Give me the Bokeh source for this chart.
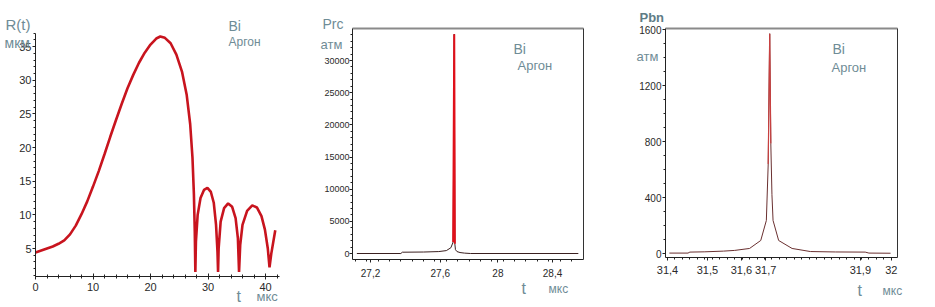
import numpy as np
from bokeh.plotting import figure
from bokeh.layouts import row
from bokeh.models import (Label, FixedTicker, SingleIntervalTicker, Range1d,
                          LinearAxis)
from bokeh.embed import file_html
from bokeh.resources import INLINE

# ---------------- data ----------------
# Panel 1: bubble radius R(t), мкм vs t, мкс
t1 = [0.0, 1.0, 2.0, 3.0, 4.0, 5.0, 6.0, 7.0, 8.0, 9.0, 10.0, 11.0, 12.0, 13.0,
      14.0, 15.0, 16.0, 17.0, 18.0, 19.0, 20.0, 21.0, 21.7, 22.5, 23.5, 24.5,
      25.5, 26.3, 26.9, 27.3, 27.55, 27.7, 27.8, 27.9, 28.2, 28.7, 29.3, 29.9,
      30.5, 31.0, 31.4, 31.65, 31.75, 31.85, 32.2, 32.8, 33.5, 34.2, 34.8,
      35.2, 35.4, 35.6, 36.0, 36.8, 37.7, 38.5, 39.3, 39.9, 40.4, 40.7, 41.0, 41.7]
r1 = [4.4, 4.7, 5.0, 5.3, 5.7, 6.2, 7.1, 8.4, 10.1, 12.0, 14.2, 16.5, 19.0, 21.6,
      24.1, 26.5, 28.8, 30.8, 32.6, 34.1, 35.3, 36.2, 36.5, 36.3, 35.5, 33.8,
      31.2, 27.8, 23.5, 18.5, 13.0, 7.5, 1.5, 6.0, 10.0, 12.5, 13.7, 14.0,
      13.4, 11.8, 8.5, 4.5, 1.5, 5.0, 9.0, 11.0, 11.7, 11.2, 9.5,
      6.5, 1.5, 5.5, 8.5, 10.6, 11.4, 11.1, 9.8, 7.8, 5.0, 2.2, 4.2, 7.7]

# Panel 2: Prc, атм
t2 = [27.11, 27.40, 27.41, 27.55, 27.65, 27.70, 27.73, 27.745, 27.752, 27.756,
      27.76, 27.77, 27.79, 27.82, 27.86, 28.57]
p2 = [0, 0, 200, 230, 300, 450, 900, 1800, 34100, 1500,
      600, 300, 150, 60, 0, 0]

# Panel 3: Pbn, атм
t3 = [31.405, 31.455, 31.46, 31.50, 31.55, 31.58, 31.62, 31.65, 31.665, 31.670,
      31.674, 31.677, 31.680, 31.683, 31.698, 31.734, 31.783, 31.85, 31.93,
      31.94, 31.998]
p3 = [3, 3, 10, 12, 17, 22, 36, 93, 236, 640,
      1570, 785, 420, 236, 93, 36, 14, 11, 10,
      3, 2]

# tick labels
x2_tick_pos = [27.2, 27.66, 28.04, 28.4]
x2_tick_lab = ["27,2", "27,6", "28", "28,4"]
y2_ticks = [0, 5000, 10000, 15000, 20000, 25000, 30000]
x3_tick_pos = [31.4, 31.507, 31.598, 31.663, 31.917, 32.0]
x3_tick_lab = ["31,4", "31,5", "31,6", "31,7", "31,9", "32"]
y3_ticks = [0, 400, 800, 1200, 1600]

TXT = "#6f8c96"
FONT = "Liberation Sans"
H = 305


def make_fig(width, view_x, view_y):
    p = figure(x_range=Range1d(*view_x), y_range=Range1d(*view_y),
               frame_width=width, frame_height=H, min_border=0,
               x_axis_location=None, y_axis_location=None,
               output_backend="svg", toolbar_location=None, title=None)
    p.grid.visible = False
    p.outline_line_color = None
    p.background_fill_color = "white"
    p.border_fill_color = "white"
    return p


def style_axis(ax, size):
    ax.axis_line_color = "#222222"
    ax.major_tick_line_color = "#222222"
    ax.minor_tick_line_color = "#222222"
    ax.major_label_text_font = FONT
    ax.major_label_text_color = "#2a2a2a"
    ax.major_label_text_font_size = size
    ax.major_tick_out = 3
    ax.major_tick_in = 0
    ax.minor_tick_out = 2
    ax.minor_tick_in = 0


def frame_axis(p, place, loc, bounds, color="#333333", width=1):
    ax = LinearAxis(fixed_location=loc, bounds=bounds, axis_line_color=color,
                    axis_line_width=width, major_tick_line_color=None,
                    minor_tick_line_color=None, major_label_text_alpha=0,
                    major_label_text_font_size="1px")
    p.add_layout(ax, place)


def add_text(p, x0, px, py, s, size, color=TXT, style="normal"):
    p.add_layout(Label(x=px - x0, y=H - py, x_units="screen", y_units="screen",
                       text=s, text_font=FONT, text_font_size=f"{size}px",
                       text_color=color, text_font_style=style,
                       text_baseline="alphabetic", text_align="left"))


# ---------------- panel 1 ----------------
p1 = make_fig(300, (-35 / 5.75, 265 / 5.75), (5 - 57 / 6.73, 5 + 248 / 6.73))
xa1 = LinearAxis(fixed_location=0.84, bounds=(0, 42.43),
                 ticker=SingleIntervalTicker(interval=10, num_minor_ticks=5))
ya1 = LinearAxis(fixed_location=0, bounds=(0.84, 37.0),
                 ticker=SingleIntervalTicker(interval=5, num_minor_ticks=5))
style_axis(xa1, "11px")
style_axis(ya1, "11px")
xa1.major_tick_in = 3
xa1.minor_tick_in = 2
xa1.major_label_standoff = 4
ya1.major_label_standoff = 1
p1.add_layout(xa1, "below")
p1.add_layout(ya1, "left")
p1.line(t1, r1, line_color="#c8141e", line_width=2.6)
add_text(p1, 0, 5, 24, "R(t)", 15)
add_text(p1, 0, 4, 42, "мкм", 14)
add_text(p1, 0, 228, 25, "Bi", 14)
add_text(p1, 0, 228, 41, "Аргон", 12)
add_text(p1, 0, 236, 296, "t", 16)
add_text(p1, 0, 256, 296, "мкс", 13)

# ---------------- panel 2 ----------------
s2 = 151.7            # px per мкс
k2 = 6.433 / 1000.0   # px per атм
p2f = make_fig(300, (27.2 - 70 / s2, 27.2 + 230 / s2), (-52 / k2, 253 / k2))
x2lo, x2hi, y2lo, y2hi = 27.0813, 28.604, -933, 34975
xa2 = LinearAxis(fixed_location=y2lo, bounds=(x2lo, x2hi),
                 ticker=FixedTicker(ticks=x2_tick_pos,
                                    minor_ticks=list(np.arange(27.1, 28.6, 0.075))))
xa2.major_label_overrides = {v: s for v, s in zip(x2_tick_pos, x2_tick_lab)}
ya2 = LinearAxis(fixed_location=x2lo, bounds=(y2lo, y2hi),
                 ticker=FixedTicker(ticks=y2_ticks,
                                    minor_ticks=list(np.arange(0, 35000, 1000))))
style_axis(xa2, "10px")
style_axis(ya2, "9px")
xa2.major_label_standoff = 6
ya2.major_label_standoff = 0
frame_axis(p2f, "right", x2hi, (y2lo, y2hi))
frame_axis(p2f, "above", y2hi, (x2lo, x2hi), color="#8a8a8a", width=2)
p2f.add_layout(xa2, "below")
p2f.add_layout(ya2, "left")
p2f.line(t2, p2, line_color="#3b2020", line_width=1)
sel2 = [i for i, v in enumerate(p2) if v > 1000]
p2f.line([t2[i] for i in sel2], [p2[i] for i in sel2], line_color="#e0101a", line_width=2)
add_text(p2f, 300, 322, 23, "Prc", 14)
add_text(p2f, 300, 320, 44, "атм", 13)
add_text(p2f, 300, 513, 48, "Bi", 14)
add_text(p2f, 300, 517, 65, "Аргон", 13)
add_text(p2f, 300, 521, 288, "t", 16)
add_text(p2f, 300, 548, 288, "мкс", 12)

# ---------------- panel 3 ----------------
s3 = 373.0
k3 = 0.14
p3f = make_fig(335, (31.4 - 67 / s3, 31.4 + 268 / s3), (-52 / k3, 253 / k3))
x3lo, x3hi, y3lo, y3hi = 31.3946, 32.0166, -28.6, 1607
xa3 = LinearAxis(fixed_location=y3lo, bounds=(x3lo, x3hi),
                 ticker=FixedTicker(ticks=x3_tick_pos,
                                    minor_ticks=list(np.arange(31.4, 32.01, 0.02))))
xa3.major_label_overrides = {v: s for v, s in zip(x3_tick_pos, x3_tick_lab)}
ya3 = LinearAxis(fixed_location=x3lo, bounds=(y3lo, y3hi),
                 ticker=FixedTicker(ticks=y3_ticks,
                                    minor_ticks=list(np.arange(0, 1601, 100))))
style_axis(xa3, "11px")
style_axis(ya3, "10px")
xa3.major_label_standoff = 5
ya3.major_label_standoff = 1
frame_axis(p3f, "right", x3hi, (y3lo, y3hi))
frame_axis(p3f, "above", y3hi, (x3lo, x3hi), color="#8a8a8a", width=2)
p3f.add_layout(xa3, "below")
p3f.add_layout(ya3, "left")
p3f.line(t3, p3, line_color="#6a3030", line_width=1)
sel3 = [i for i, v in enumerate(p3) if v > 600]
p3f.line([t3[i] for i in sel3], [p3[i] for i in sel3], line_color="#c84040", line_width=1.2)
add_text(p3f, 600, 639, 17, "Pbn", 13, color="#5e7c86", style="bold")
add_text(p3f, 600, 636, 56, "атм", 13)
add_text(p3f, 600, 832, 48, "Bi", 14)
add_text(p3f, 600, 831, 67, "Аргон", 13)
add_text(p3f, 600, 857, 290, "t", 16)
add_text(p3f, 600, 882, 290, "мкс", 12)

layout = row(p1, p2f, p3f)
open("out.html", "w").write(file_html(layout, INLINE))
